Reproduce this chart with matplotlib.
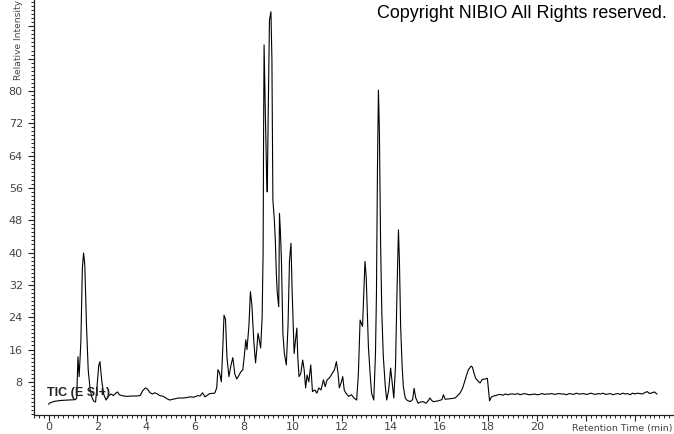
import matplotlib
matplotlib.use("Agg")
import matplotlib.pyplot as plt
from matplotlib.ticker import FixedLocator, MultipleLocator

# retention time (min) and relative intensity
rt = [
    0.00, 0.05, 0.25, 0.50, 0.80, 1.10, 1.15, 1.20, 1.25, 1.32, 1.38, 1.43, 1.48, 1.55, 1.62,
    1.70, 1.78, 1.85, 1.92, 1.97, 2.05, 2.10, 2.18, 2.26, 2.35, 2.45, 2.55, 2.65, 2.75, 2.82,
    2.90, 3.00, 3.20, 3.40, 3.60, 3.75, 3.85, 3.96, 4.05, 4.15, 4.25, 4.35, 4.45, 4.55, 4.70,
    4.85, 4.96, 5.10, 5.30, 5.50, 5.65, 5.80, 5.95, 6.10, 6.20, 6.30, 6.40, 6.50, 6.60, 6.80,
    6.88, 6.93, 7.00, 7.07, 7.12, 7.18, 7.24, 7.30, 7.38, 7.46, 7.54, 7.62, 7.70, 7.78, 7.87,
    7.95, 8.02, 8.07, 8.12, 8.20, 8.26, 8.32, 8.40, 8.47, 8.52, 8.57, 8.62, 8.68, 8.74, 8.78,
    8.80, 8.82, 8.86, 8.92, 8.95, 8.99, 9.04, 9.10, 9.14, 9.18, 9.24, 9.28, 9.32, 9.36, 9.42,
    9.45, 9.49, 9.53, 9.59, 9.65, 9.73, 9.80, 9.86, 9.92, 9.97, 10.05, 10.10, 10.16, 10.20, 10.25,
    10.32, 10.40, 10.46, 10.52, 10.58, 10.65, 10.73, 10.80, 10.90, 10.98, 11.06, 11.15, 11.25, 11.32, 11.40,
    11.50, 11.60, 11.70, 11.78, 11.85, 11.90, 11.97, 12.04, 12.10, 12.17, 12.28, 12.40, 12.50, 12.61, 12.68,
    12.75, 12.80, 12.85, 12.90, 12.95, 13.00, 13.09, 13.16, 13.22, 13.31, 13.38, 13.42, 13.46, 13.50, 13.54,
    13.59, 13.64, 13.70, 13.78, 13.84, 13.92, 14.00, 14.06, 14.13, 14.20, 14.26, 14.32, 14.36, 14.41, 14.47,
    14.52, 14.60, 14.66, 14.80, 14.90, 14.96, 15.03, 15.13, 15.22, 15.33, 15.45, 15.55, 15.61, 15.68, 15.75,
    15.95, 16.10, 16.16, 16.23, 16.40, 16.64, 16.84, 16.95, 17.05, 17.18, 17.30, 17.35, 17.42, 17.48, 17.58,
    17.66, 17.75, 17.87, 17.96, 18.05, 18.12, 18.21, 18.30, 18.40, 18.48, 18.60, 18.70, 18.80, 18.90, 19.00,
    19.10, 19.20, 19.30, 19.40, 19.50, 19.60, 19.70, 19.80, 19.90, 20.00, 20.10, 20.20, 20.30, 20.40, 20.50,
    20.60, 20.70, 20.80, 20.90, 21.00, 21.10, 21.20, 21.30, 21.40, 21.50, 21.60, 21.70, 21.80, 21.90, 22.00,
    22.10, 22.20, 22.30, 22.40, 22.50, 22.60, 22.70, 22.80, 22.90, 23.00, 23.10, 23.20, 23.30, 23.40, 23.50,
    23.60, 23.70, 23.80, 23.90, 24.00, 24.10, 24.20, 24.30, 24.40, 24.50, 24.60, 24.70, 24.80, 24.90,
]
intensity = [
    2.5, 2.8, 3.2, 3.4, 3.5, 3.6, 4.0, 14.2, 9.3, 18.0, 36.0, 39.9, 37.0, 22.0, 11.0,
    6.0, 4.0, 3.2, 3.0, 6.0, 12.0, 13.0, 8.0, 4.8, 3.5, 4.5, 5.0, 4.6, 5.2, 5.5,
    4.8, 4.6, 4.4, 4.5, 4.5, 4.6, 5.8, 6.5, 6.2, 5.3, 5.0, 5.3, 5.0, 4.6, 4.4,
    3.8, 3.5, 3.7, 4.0, 4.0, 4.1, 4.3, 4.2, 4.6, 4.5, 5.3, 4.3, 4.7, 5.1, 5.2,
    6.5, 11.0, 10.2, 8.0, 15.0, 24.5, 23.5, 14.0, 9.3, 12.0, 14.0, 10.0, 8.7, 9.5, 10.5,
    11.0, 15.0, 18.4, 16.0, 22.0, 30.3, 27.0, 18.0, 12.7, 16.0, 20.0, 18.5, 16.4, 24.0, 40.0,
    70.0, 91.4, 78.0, 60.0, 55.0, 75.0, 97.5, 99.6, 88.0, 53.0, 48.0, 43.0, 35.0, 30.0, 26.6,
    49.7, 45.0, 38.0, 20.0, 15.0, 12.2, 22.0, 38.0, 42.3, 30.0, 15.0, 18.0, 21.3, 14.0, 9.3,
    10.0, 13.4, 11.0, 6.5, 9.7, 8.0, 12.2, 5.6, 6.0, 5.2, 6.5, 6.0, 8.5, 6.8, 8.5,
    9.0, 10.0, 11.0, 13.0, 10.0, 6.5, 7.7, 9.3, 6.0, 5.2, 4.4, 4.8, 4.0, 3.5, 10.0,
    23.3, 22.5, 21.7, 30.0, 37.8, 34.0, 16.7, 10.0, 5.2, 3.5, 15.0, 30.0, 60.0, 80.2, 70.0,
    42.0, 25.0, 14.3, 7.0, 3.5, 6.0, 11.4, 8.0, 4.0, 12.0, 30.0, 45.6, 38.0, 21.7, 12.0,
    6.8, 4.0, 3.5, 3.1, 3.6, 6.4, 4.0, 2.7, 3.0, 3.1, 2.7, 3.4, 4.0, 3.4, 3.1,
    3.3, 3.6, 4.8, 3.7, 3.8, 4.0, 5.2, 6.5, 8.5, 11.0, 11.9, 11.6, 10.0, 8.9, 8.2,
    7.7, 8.6, 8.7, 8.9, 3.3, 4.2, 4.5, 4.6, 4.8, 4.9, 4.7, 5.0, 4.8, 5.0, 5.0,
    4.9, 5.1, 4.8, 5.0, 5.1, 4.9, 4.8, 4.9, 5.0, 4.8, 4.9, 5.1, 4.9, 5.0, 5.0,
    5.1, 4.9, 5.0, 5.1, 5.0, 5.0, 4.8, 5.1, 5.0, 4.9, 5.2, 5.0, 5.0, 5.1, 4.9,
    5.0, 5.2, 5.0, 4.9, 5.1, 5.0, 5.2, 4.9, 5.0, 5.1, 4.8, 5.0, 5.1, 4.9, 5.2,
    5.0, 5.1, 4.8, 5.2, 5.0, 5.2, 5.1, 5.0, 5.3, 5.6, 5.1, 5.3, 5.5, 5.0,
]

x_major = [0, 2, 4, 6, 8, 10, 12, 14, 16, 18, 20, 22, 24]
x_labels = ["0", "2", "4", "6", "8", "10", "12", "14", "16", "18", "20", "", ""]
y_major = [8, 16, 24, 32, 40, 48, 56, 64, 72, 80, 88, 96]
y_labels = ["8", "16", "24", "32", "40", "48", "56", "64", "72", "80", "", ""]

fig = plt.figure(figsize=(6.74, 4.34), dpi=100)
ax = fig.add_axes([0.0504, 0.0438, 0.9496, 0.9562])
ax.plot(rt, intensity, color="black", linewidth=0.8)

ax.set_xlim(-0.6, 25.6)
ax.set_ylim(-0.2, 102.5)
for side in ("top", "right"):
    ax.spines[side].set_visible(False)
for side in ("left", "bottom"):
    ax.spines[side].set_linewidth(0.9)
    ax.spines[side].set_color("#222222")

ax.xaxis.set_major_locator(FixedLocator(x_major))
ax.set_xticklabels(x_labels)
ax.xaxis.set_minor_locator(MultipleLocator(0.2))
ax.yaxis.set_major_locator(FixedLocator(y_major))
ax.set_yticklabels(y_labels)
ax.yaxis.set_minor_locator(MultipleLocator(1))
ax.tick_params(which="major", length=4, width=0.8, color="#222222",
               labelsize=8, labelcolor="#444444")
ax.tick_params(axis="x", which="major", pad=1)
ax.tick_params(axis="y", which="major", pad=4)
ax.tick_params(which="minor", length=2.5, width=0.7, color="#222222")

fig.text(0.027, 1 - 80 / 434, "Relative Intensity", rotation=90, ha="center", va="bottom",
         fontsize=6.6, color="#444444")
fig.text(1 - 1 / 674, 1 - 428 / 434, "Retention Time (min)", ha="right", va="center",
         fontsize=6.8, color="#444444")
fig.text(377 / 674, 1 - 14 / 434, "Copyright NIBIO All Rights reserved.", ha="left", va="center",
         fontsize=12.9, family="Liberation Sans", color="black")
fig.text(47 / 674, 1 - 393 / 434, "TIC (E SI+)", ha="left", va="center",
         fontsize=9, fontweight="bold", family="Liberation Sans", color="#222222")

fig.savefig("out.png", dpi=100)
